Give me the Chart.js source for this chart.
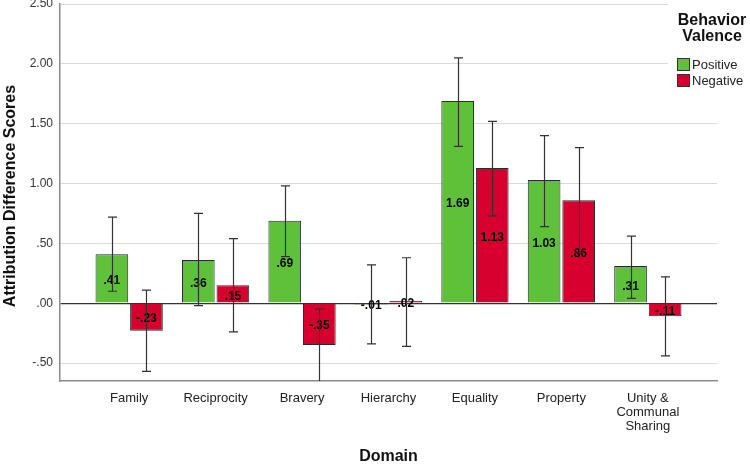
<!DOCTYPE html>
<html>
<head>
<meta charset="utf-8">
<script src="https://cdn.jsdelivr.net/npm/chart.js@4"></script>
<style>
  html, body { margin: 0; padding: 0; background: #fff; }
  #wrap { width: 750px; height: 465px; }
</style>
</head>
<body>
<div id="wrap"><canvas id="myBarChart" width="750" height="465"></canvas></div>
<script>
// categories and values
const domains = ['Family', 'Reciprocity', 'Bravery', 'Hierarchy', 'Equality', 'Property', ['Unity &', 'Communal', 'Sharing']];
const positive = [0.41, 0.36, 0.69, -0.01, 1.69, 1.03, 0.31];
const negative = [-0.23, 0.15, -0.35, 0.02, 1.13, 0.86, -0.11];
// 95% CI ends
const posLow = [0.10, -0.02, 0.39, -0.34, 1.31, 0.64, 0.04];
const posHigh = [0.72, 0.75, 0.98, 0.32, 2.05, 1.40, 0.56];
const negLow = [-0.57, -0.24, -0.66, -0.36, 0.73, 0.42, -0.44];
const negHigh = [0.11, 0.54, -0.05, 0.38, 1.52, 1.30, 0.22];
const yTickValues = [-0.5, 0, 0.5, 1, 1.5, 2, 2.5];
const seriesNames = ['Positive', 'Negative'];

const GREEN = '#5fc13a';
const RED = '#d6002f';
const FONT = '"Liberation Sans", Arial, sans-serif';

// SPSS style number: .41, -.23, 1.69
function fmt(v) {
    return v.toFixed(2).replace(/^(-?)0\./, '$1.');
}

const extras = {
    id: 'extras',
    afterDatasetsDraw(chart) {
        const ctx = chart.ctx;
        const area = chart.chartArea;
        const y = chart.scales.y;
        const lows = [posLow, negLow];
        const highs = [posHigh, negHigh];

        // value labels
        ctx.save();
        ctx.font = 'bold 12px ' + FONT;
        ctx.fillStyle = '#000';
        ctx.textAlign = 'center';
        ctx.textBaseline = 'middle';
        chart.data.datasets.forEach((ds, d) => {
            chart.getDatasetMeta(d).data.forEach((bar, i) => {
                const v = ds.data[i].y;
                ctx.fillText(fmt(v), bar.x, y.getPixelForValue(v / 2) + 2);
            });
        });
        ctx.restore();

        // error bars
        ctx.save();
        ctx.beginPath();
        ctx.rect(area.left, area.top, area.right - area.left, area.bottom - area.top);
        ctx.clip();
        ctx.strokeStyle = '#333';
        ctx.lineWidth = 1.2;
        chart.data.datasets.forEach((ds, d) => {
            chart.getDatasetMeta(d).data.forEach((bar, i) => {
                const x = Math.round(bar.x) + 0.5;
                const top = y.getPixelForValue(highs[d][i]);
                const bot = y.getPixelForValue(lows[d][i]);
                ctx.beginPath();
                ctx.moveTo(x, top); ctx.lineTo(x, bot);
                ctx.moveTo(x - 4.5, top); ctx.lineTo(x + 4.5, top);
                ctx.moveTo(x - 4.5, bot); ctx.lineTo(x + 4.5, bot);
                ctx.stroke();
            });
        });
        ctx.restore();

        // legend (white box covers the top gridlines)
        ctx.save();
        ctx.fillStyle = '#fff';
        ctx.fillRect(668, 0, 82, 95);
        ctx.fillStyle = '#111';
        ctx.font = 'bold 16px ' + FONT;
        ctx.textAlign = 'center';
        ctx.textBaseline = 'middle';
        ctx.fillText('Behavior', 712, 21);
        ctx.fillText('Valence', 712, 37);
        ctx.font = '13px ' + FONT;
        ctx.textAlign = 'left';
        [GREEN, RED].forEach((c, k) => {
            const by = 58 + k * 16;
            ctx.fillStyle = c;
            ctx.fillRect(677, by, 13, 13);
            ctx.strokeStyle = '#333';
            ctx.lineWidth = 1;
            ctx.strokeRect(677.5, by + 0.5, 12, 12);
            ctx.fillStyle = '#222';
            ctx.fillText(seriesNames[k], 692, by + 7);
        });
        ctx.restore();

        // axis titles
        ctx.save();
        ctx.fillStyle = '#111';
        ctx.font = 'bold 16px ' + FONT;
        ctx.textAlign = 'center';
        ctx.textBaseline = 'middle';
        ctx.fillText('Domain', (area.left + area.right) / 2, 457);
        ctx.translate(11, 196);
        ctx.rotate(-Math.PI / 2);
        ctx.fillText('Attribution Difference Scores', 0, 0);
        ctx.restore();
    }
};

const ctx = document.getElementById('myBarChart');
if (ctx) {
    new Chart(ctx.getContext('2d'), {
        type: 'bar',
        data: {
            datasets: [{
                label: seriesNames[0],
                data: positive.map((v, i) => ({ x: i, y: v })),
                backgroundColor: GREEN,
                borderColor: '#2b2b2b',
                borderWidth: 1
            }, {
                label: seriesNames[1],
                data: negative.map((v, i) => ({ x: i, y: v })),
                backgroundColor: RED,
                borderColor: '#2b2b2b',
                borderWidth: 1
            }]
        },
        options: {
            responsive: false,
            animation: false,
            categoryPercentage: 0.8,
            barPercentage: 0.945,
            layout: { padding: { top: 4, right: 33, left: 0, bottom: 0 } },
            plugins: {
                legend: { display: false },
                tooltip: { enabled: false }
            },
            scales: {
                x: {
                    type: 'linear',
                    offset: false,
                    min: -0.8,
                    max: 6.8,
                    afterBuildTicks: s => { s.ticks = domains.map((_, i) => ({ value: i })); },
                    afterFit: s => { s.height = 84; s.paddingLeft = 0; s.paddingRight = 0; },
                    grid: { display: false, drawTicks: false, offset: false },
                    border: { display: true, color: '#8c8c8c', width: 1.5 },
                    ticks: {
                        autoSkip: false,
                        maxRotation: 0,
                        padding: 11,
                        color: '#222',
                        font: { family: FONT, size: 13, lineHeight: 1.05 },
                        callback: v => domains[v]
                    }
                },
                y: {
                    min: -0.65,
                    max: 2.5,
                    afterBuildTicks: s => { s.ticks = yTickValues.map(v => ({ value: v })); },
                    afterFit: s => { s.width = 60; s.paddingTop = 0; s.paddingBottom = 0; },
                    grid: {
                        drawTicks: false,
                        color: c => c.tick && c.tick.value === 0 ? '#333' : '#d9d9d9',
                        lineWidth: c => c.tick && c.tick.value === 0 ? 1.3 : 1
                    },
                    border: { display: true, color: '#8c8c8c', width: 1.5 },
                    ticks: {
                        padding: 7,
                        color: '#333',
                        font: { family: FONT, size: 12 },
                        callback: v => fmt(v)
                    }
                }
            }
        },
        plugins: [extras]
    });
} else {
    console.error("Canvas element with id 'myBarChart' not found.");
}
</script>
</body>
</html>
